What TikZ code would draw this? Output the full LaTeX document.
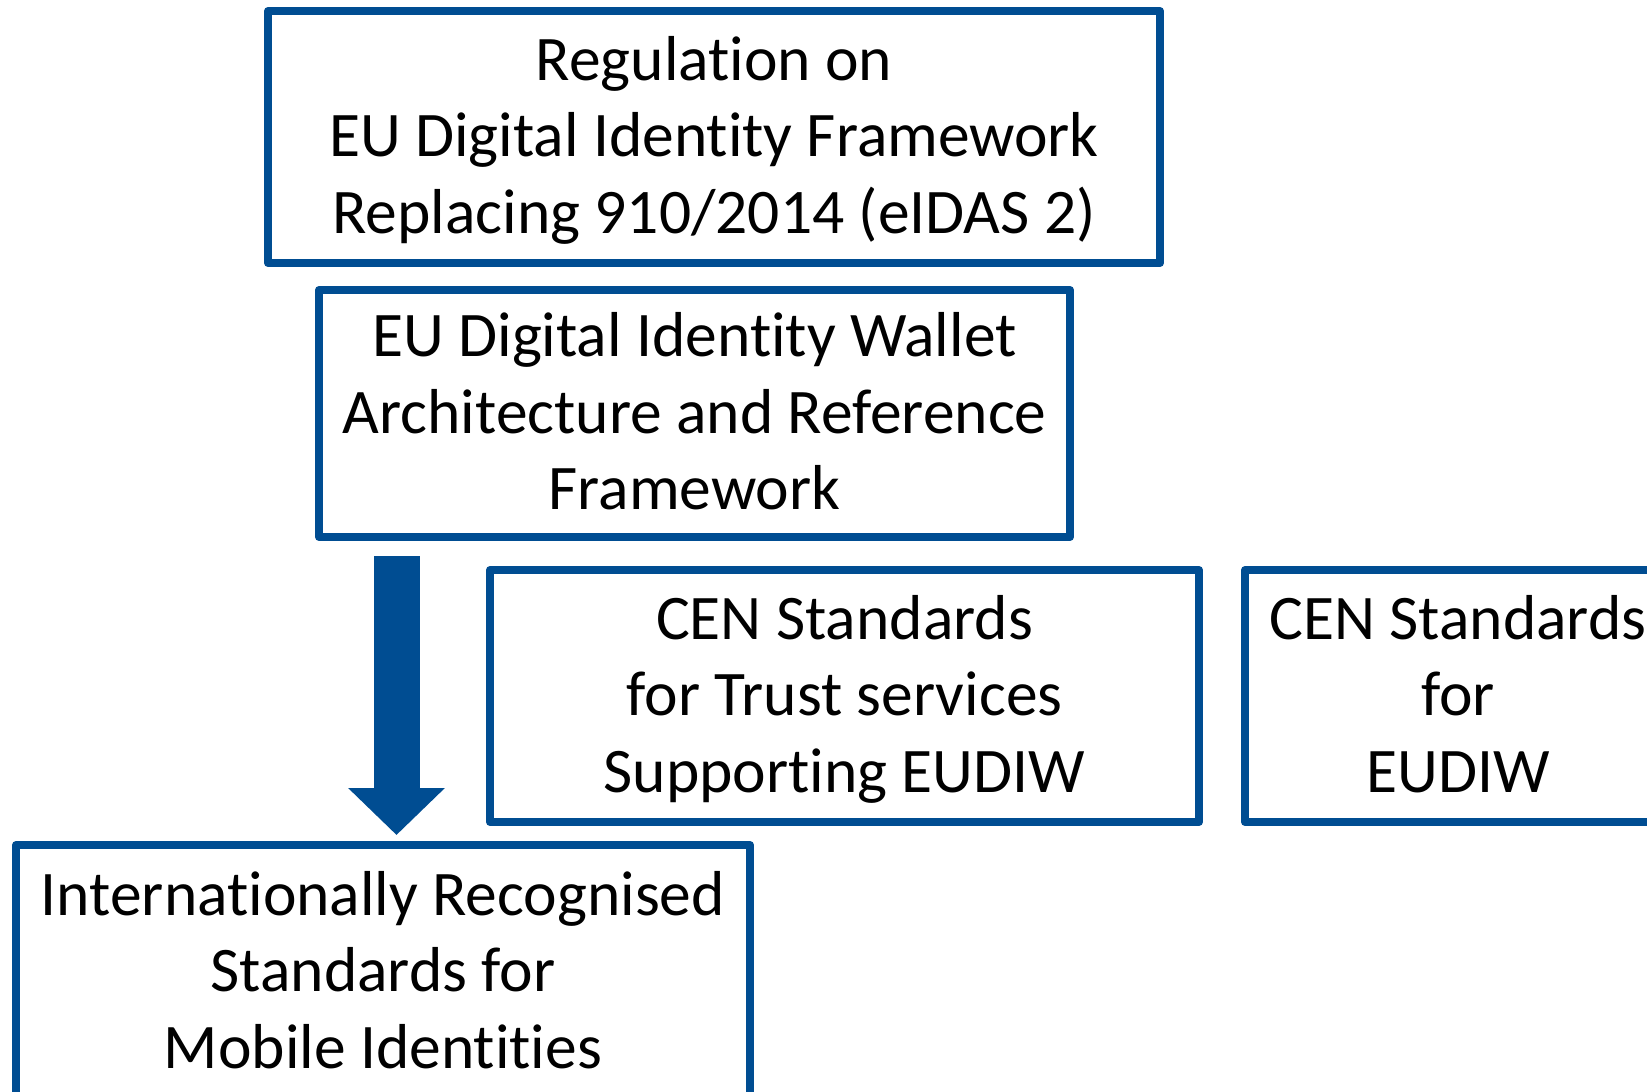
\documentclass[tikz,border=0pt]{standalone}
\usepackage{fontspec}
\setmainfont[Ligatures=NoCommon]{Carlito}
\usetikzlibrary{arrows.meta}
\definecolor{eublue}{RGB}{0,77,146}
\newcommand\boxstrut{\rule[-0.24\baselineskip]{0pt}{\baselineskip}}
\begin{document}
\begin{tikzpicture}[x=1pt,y=1pt,
  box/.style={draw=eublue, line width=8pt, line join=round, rectangle, outer sep=0pt, inner sep=0pt,
    align=center, text=black, font=\fontsize{63.5}{76.5}\selectfont},
  bigarrow/.style={draw=eublue, line width=46pt, -{Triangle[length=47pt,width=94pt]}}]
\useasboundingbox (0,0) rectangle (1647,-1092);
\clip (0,0) rectangle (1647,-1092);
\node[box, minimum width=892pt, minimum height=252pt] (reg) at (714,-137)
  {\boxstrut Regulation on\\EU Digital Identity Framework\\Replacing 910/2014 (eIDAS 2)\boxstrut};
\node[box, minimum width=751pt, minimum height=247pt] (arf) at (694.5,-413.5)
  {\boxstrut EU Digital Identity Wallet\\Architecture and Reference\\Framework\boxstrut};
\node[box, minimum width=709pt, minimum height=252pt] (cents) at (844.5,-696)
  {\boxstrut CEN Standards\\for Trust services\\Supporting EUDIW\boxstrut};
\node[box, minimum width=426pt, minimum height=252pt] (cenw) at (1458,-696)
  {\boxstrut CEN Standards\\for\\EUDIW\boxstrut};
\node[box, minimum width=734pt, minimum height=254pt] (intl) at (383,-972)
  {\boxstrut Internationally Recognised\\Standards for\\Mobile Identities\boxstrut};
\coordinate (ax) at (396.5,0);
\draw[bigarrow] ([yshift=-19pt]arf.south -| ax) -- ([yshift=10pt]intl.north -| ax);
\end{tikzpicture}
\end{document}
